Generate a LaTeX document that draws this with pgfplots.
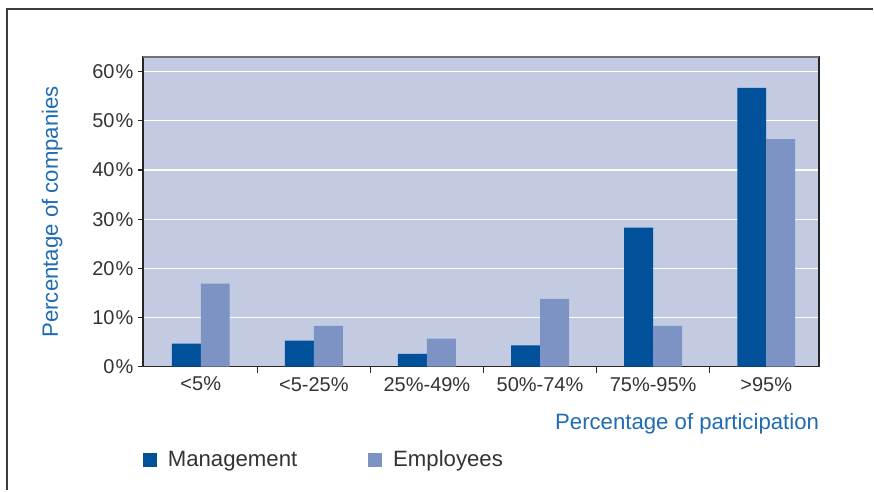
\documentclass[border=0pt]{standalone}
\usepackage{fontspec}
\setmainfont{Liberation Sans}
\usepackage{pgfplots}
\pgfplotsset{compat=1.18}
\definecolor{mgmt}{RGB}{0,81,154}
\definecolor{empl}{RGB}{124,147,196}
\definecolor{bgc}{RGB}{195,203,227}
\definecolor{lblue}{RGB}{31,108,178}
\definecolor{txt}{RGB}{51,51,51}
\definecolor{frame}{RGB}{60,60,60}
\begin{document}
\begin{tikzpicture}[x=1bp,y=1bp]
\path (0,0) rectangle (874,491);
\draw[line width=1.8bp, color=frame] (7,0) -- (7,482) -- (874,482);
\begin{axis}[
  at={(143bp,124bp)}, anchor=south west,
  scale only axis, width=677bp, height=310bp,
  ybar=0pt, bar width=29bp,
  ymin=0, ymax=63, xmin=-0.512, xmax=5.468,
  xtick={0,...,5},
  xticklabels={{<5\%},{<5-25\%},{25\%-49\%},{50\%-74\%},{75\%-95\%},{>95\%}},
  major x tick style={draw=none},
  minor xtick={0.5,1.5,...,4.5},
  minor tick length=6bp,
  major tick length=5bp,
  tick align=outside,
  xtick pos=bottom, ytick pos=left,
  ytick={0,10,...,60},
  yticklabel={\pgfmathprintnumber{\tick}\kern1bp\%},
  /pgf/number format/assume math mode=true,
  ymajorgrids, grid style={white, line width=1.2bp},
  axis background/.style={fill=bgc},
  axis line style={line width=1.5bp, color=black!85},
  tick style={line width=1.3bp, color=black!85},
  tick label style={font=\fontsize{20bp}{22bp}\selectfont, text=txt},
  xticklabel style={yshift=-2bp},
  yticklabel style={xshift=-1bp},
  xlabel={Percentage of participation},
  ylabel={Percentage of companies},
  label style={font=\fontsize{22.2bp}{24bp}\selectfont, text=lblue},
  xlabel style={at={(axis description cs:1,-0.186)}, anchor=east, inner sep=0pt},
  ylabel style={at={(axis description cs:-0.134,0.5)}, anchor=center, inner sep=0pt},
  legend columns=2,
  legend style={draw=none, fill=none, at={(axis description cs:0,-0.30)}, anchor=west,
    inner sep=0pt, outer sep=0pt,
    nodes={inner sep=0pt, font=\fontsize{22.2bp}{24bp}\selectfont, text=txt},
    /tikz/every odd column/.append style={column sep=11bp},
    /tikz/every even column/.append style={column sep=71bp}},
  legend image code/.code={\fill[#1,draw=none] (0bp,-7bp) rectangle (14bp,7bp);},
]
\addplot[fill=mgmt, draw=none] coordinates {(0,4.7) (1,5.3) (2,2.6) (3,4.3) (4,28.3) (5,56.7)};
\addplot[fill=empl, draw=none] coordinates {(0,16.9) (1,8.3) (2,5.7) (3,13.8) (4,8.3) (5,46.3)};
\legend{Management, Employees}
\draw[line width=1.5bp, color=black!55] (rel axis cs:0,1) -- (rel axis cs:1,1);
\end{axis}
\end{tikzpicture}
\end{document}
